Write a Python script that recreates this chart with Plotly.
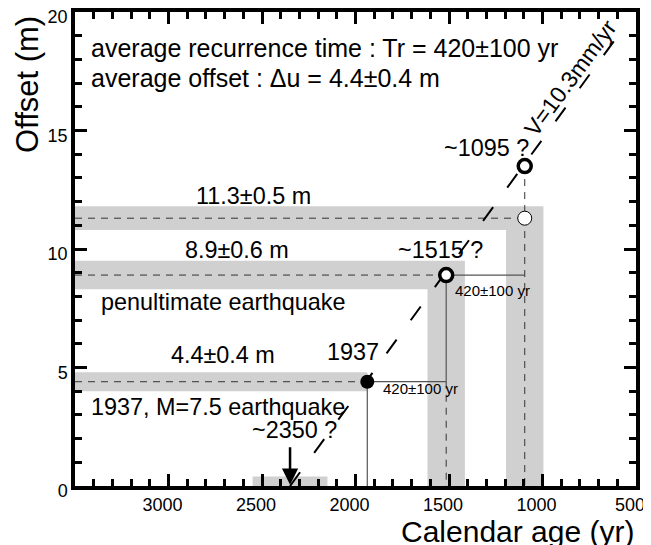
import plotly.graph_objects as go

# ---------------- data ----------------
event_years = [1937, 1515, 1095]          # calendar age of events (yr)
event_offsets = [4.4, 8.9, 11.3]          # cumulative offset (m)
offset_err = [0.4, 0.6, 0.5]              # offset uncertainty (m)
age_err = [0, 100, 100]                   # age uncertainty (yr)
offset_labels = ["4.4±0.4 m", "8.9±0.6 m", "11.3±0.5 m"]

proj_year = 1095                           # projected event age
proj_offset = 13.5                         # projected offset (m)

oldest_year = 2350                         # oldest (inferred) event
oldest_age_err = 200
oldest_band_top = 0.4

rate_line_x = [2350, 560]                  # V = 10.3 mm/yr line
rate_line_y = [0.0, 19.4]

x_range = [3500, 500]
y_range = [0, 20]
x_ticks = [3000, 2500, 2000, 1500, 1000, 500]
y_ticks = [0, 5, 10, 15, 20]
x_minor_step = 100
y_minor_step = 1

FONT = "Liberation Sans, Arial, Helvetica, sans-serif"
BAND = "#d0d0d0"

fig = go.Figure()

# ---------------- shaded uncertainty bands ----------------
x_left = x_range[0]
y_bot = y_range[0]
for yr, off, de, da in zip(event_years, event_offsets, offset_err, age_err):
    lo, hi = off - de, off + de
    if da > 0:
        xs = [x_left, x_left, yr - da, yr - da, yr + da, yr + da, x_left]
        ys = [lo, hi, hi, y_bot, y_bot, lo, lo]
    else:
        xs = [x_left, x_left, yr, yr, x_left]
        ys = [lo, hi, hi, lo, lo]
    fig.add_trace(go.Scatter(x=xs, y=ys, mode="lines", fill="toself",
                             fillcolor=BAND, line=dict(width=0),
                             hoverinfo="skip", showlegend=False))

fig.add_trace(go.Scatter(
    x=[oldest_year + oldest_age_err, oldest_year + oldest_age_err,
       oldest_year - oldest_age_err, oldest_year - oldest_age_err],
    y=[y_bot, oldest_band_top, oldest_band_top, y_bot],
    mode="lines", fill="toself", fillcolor=BAND, line=dict(width=0),
    hoverinfo="skip", showlegend=False))

# ---------------- dashed / solid guide lines ----------------
DASH = dict(color="#333333", width=1, dash="7px,6px")
SOLID = dict(color="#555555", width=1.2)


def seg(xs, ys, line):
    fig.add_trace(go.Scatter(x=xs, y=ys, mode="lines", line=line,
                             hoverinfo="skip", showlegend=False))


for yr, off in zip(event_years, event_offsets):
    seg([x_left, yr], [off, off], DASH)

seg([event_years[0], event_years[0]], [event_offsets[0], y_bot], SOLID)
seg([event_years[1], event_years[1]], [event_offsets[1], event_offsets[0]], SOLID)
seg([event_years[1], event_years[1]], [event_offsets[0], y_bot], DASH)
seg([proj_year, proj_year], [proj_offset, y_bot], DASH)
seg([event_years[0], event_years[1]], [event_offsets[0], event_offsets[0]], SOLID)
seg([event_years[1], event_years[2]], [event_offsets[1], event_offsets[1]], SOLID)

# ---------------- slip-rate line ----------------
seg(rate_line_x, rate_line_y, dict(color="black", width=2, dash="17px,24px"))

# ---------------- markers ----------------
fig.add_trace(go.Scatter(x=[event_years[2]], y=[event_offsets[2]], mode="markers",
                         marker=dict(size=14, color="white",
                                     line=dict(color="black", width=1)),
                         hoverinfo="skip", showlegend=False))
fig.add_trace(go.Scatter(x=[event_years[1], proj_year], y=[event_offsets[1], proj_offset],
                         mode="markers",
                         marker=dict(size=13, color="white",
                                     line=dict(color="black", width=3.5)),
                         hoverinfo="skip", showlegend=False))
fig.add_trace(go.Scatter(x=[event_years[0]], y=[event_offsets[0]], mode="markers",
                         marker=dict(size=14, color="black"),
                         hoverinfo="skip", showlegend=False))

# empty trace so that the minor-tick overlay axes are drawn
fig.add_trace(go.Scatter(x=[], y=[], xaxis="x2", yaxis="y2",
                         hoverinfo="skip", showlegend=False))

# ---------------- annotations ----------------
def txt(x, y, s, size=23.4, **kw):
    d = dict(x=x, y=y, xref="x", yref="y", text=s, showarrow=False,
             font=dict(family=FONT, size=size, color="black"))
    d.update(kw)
    fig.add_annotation(**d)


txt(3425, 18.5, "average recurrence time : Tr = 420±100 yr", size=25, xanchor="left")
txt(3425, 17.2, "average offset : Δu = 4.4±0.4 m", size=25, xanchor="left")
txt(2548, 12.25, offset_labels[2])
txt(2634, 9.94, offset_labels[1])
txt(2709, 7.75, "penultimate earthquake")
txt(2709, 5.52, offset_labels[0])
txt(2013, 5.64, "1937")
txt(2735, 3.33, "1937, M=7.5 earthquake")
txt(2324, 2.36, "~2350 ?")
txt(1548, 9.94, "~1515 ?")
txt(1302, 14.27, "~1095 ?")
txt(1650, 4.13, "420±100 yr", size=15)
txt(1265, 8.25, "420±100 yr", size=15)
txt(850, 17.2, "V=10.3mm/yr", size=23, textangle=-53.6)

# arrow at ~2350
fig.add_annotation(x=oldest_year, y=0.05, ax=oldest_year, ay=1.7,
                   xref="x", yref="y", axref="x", ayref="y",
                   showarrow=True, arrowhead=2, arrowsize=1.3, arrowwidth=2.5,
                   arrowcolor="black", text="")

# axis titles
fig.add_annotation(x=-0.0856, y=0.848, xref="paper", yref="paper",
                   xanchor="center", yanchor="middle",
                   text="Offset (m)", showarrow=False, textangle=-90,
                   font=dict(family=FONT, size=31, color="black"))
fig.add_annotation(x=1.0, y=-0.097, xref="paper", yref="paper",
                   xanchor="right", yanchor="middle",
                   text="Calendar age (yr)", showarrow=False,
                   font=dict(family=FONT, size=30, color="black"))

axis_common = dict(showgrid=False, zeroline=False, showline=True, linecolor="black",
                   linewidth=3.5, mirror="ticks", ticks="inside", ticklen=12,
                   tickwidth=3, tickcolor="black", automargin=False,
                   ticklabeloverflow="allow",
                   tickfont=dict(family=FONT, size=18, color="black"))
minor_common = dict(showgrid=False, zeroline=False, showline=False,
                    mirror="ticks", ticks="inside", ticklen=7, tickwidth=3,
                    tickcolor="black", showticklabels=False, automargin=False)

x_minor = list(range(x_range[1], x_range[0] + 1, x_minor_step))
y_minor = list(range(y_range[0], y_range[1] + 1, y_minor_step))

fig.update_layout(
    xaxis=dict(range=x_range, tickmode="array", tickvals=x_ticks,
               ticklabelshift=6, **axis_common),
    yaxis=dict(range=y_range, tickmode="array", tickvals=y_ticks,
               ticklabelshift=5, **axis_common),
    xaxis2=dict(range=x_range, overlaying="x", side="bottom", anchor="y2",
                tickmode="array", tickvals=x_minor, **minor_common),
    yaxis2=dict(range=y_range, overlaying="y", side="left", anchor="x2",
                tickmode="array", tickvals=y_minor, **minor_common),
)

fig.update_layout(template="none", width=643, height=537,
                  margin=dict(l=67, r=15, t=4, b=59, autoexpand=False),
                  plot_bgcolor="white", paper_bgcolor="white",
                  showlegend=False)

fig.write_html("out.html")
